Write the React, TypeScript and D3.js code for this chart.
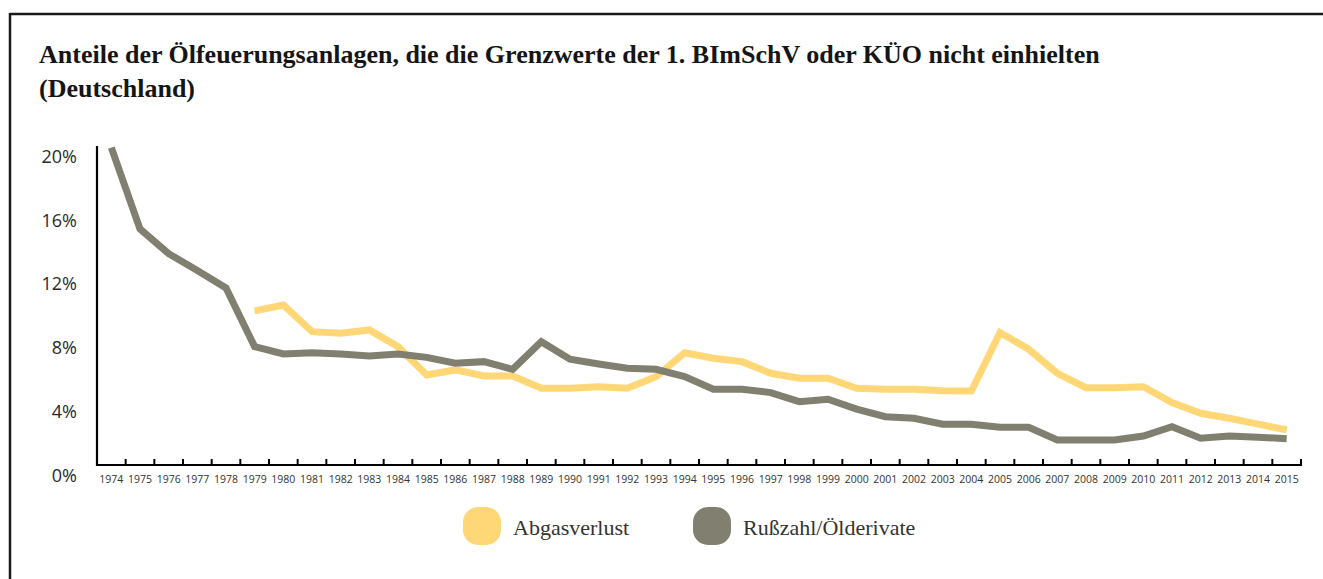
import React from "react";
import * as d3 from "d3";

const years: number[] = d3.range(1974, 2016);

// Rußzahl/Ölderivate (gray), 1974–2015, in %
const russzahl: number[] = [
  19.9, 14.8, 13.25, 12.2, 11.1, 7.42, 6.96, 7.04, 6.96, 6.84, 6.96, 6.75, 6.38, 6.48,
  6.0, 7.73, 6.63, 6.33, 6.07, 6.0, 5.54, 4.75, 4.75, 4.54, 3.97, 4.12, 3.5, 3.03,
  2.93, 2.56, 2.56, 2.37, 2.37, 1.57, 1.57, 1.57, 1.82, 2.4, 1.68, 1.82, 1.74, 1.65,
];

// Abgasverlust (yellow), 1979–2015, in %
const abgasYears: number[] = d3.range(1979, 2016);
const abgasverlust: number[] = [
  9.66, 10.03, 8.36, 8.26, 8.47, 7.42, 5.65, 5.96, 5.58, 5.58, 4.81, 4.81, 4.91, 4.81,
  5.54, 7.04, 6.69, 6.48, 5.75, 5.44, 5.44, 4.81, 4.75, 4.75, 4.66, 4.64, 8.3, 7.26,
  5.75, 4.85, 4.85, 4.91, 3.91, 3.24, 2.93, 2.56, 2.2,
];

const yTicks: number[] = [0, 4, 8, 12, 16, 20];

const titleLines: string[] = [
  "Anteile der Ölfeuerungsanlagen, die die Grenzwerte der 1. BImSchV oder KÜO nicht einhielten",
  "(Deutschland)",
];

const legendItems = [
  { label: "Abgasverlust", color: "#FFD776" },
  { label: "Rußzahl/Ölderivate", color: "#817F6F" },
];

export default function App() {
  const W = 1323;
  const H = 579;
  const x0 = 97;
  const x1 = 1301;
  const yTop = 146;
  const yBot = 465;

  const x = d3.scaleBand<number>().domain(years).range([x0, x1]).padding(0);
  const cx = (yr: number) => (x(yr) as number) + x.bandwidth() / 2;
  const y = d3.scaleLinear().domain([0, 20]).range([yBot, yTop]);

  const line = d3
    .line<[number, number]>()
    .x((d) => cx(d[0]))
    .y((d) => y(d[1]));

  const grayPath = line(years.map((yr, i) => [yr, russzahl[i]] as [number, number])) || "";
  const yellowPath = line(abgasYears.map((yr, i) => [yr, abgasverlust[i]] as [number, number])) || "";

  const serif = "'Liberation Serif', 'DejaVu Serif', serif";
  const sans = "'Open Sans', 'Noto Sans', sans-serif";

  return (
    <svg
      width={W}
      height={H}
      style={{ position: "absolute", left: 0, top: 0, background: "#fff" }}
    >
      {/* frame */}
      <line x1={10} y1={14} x2={W} y2={14} stroke="#1a1a1a" strokeWidth={2.5} />
      <line x1={10} y1={13} x2={10} y2={H} stroke="#1a1a1a" strokeWidth={2.5} />

      {/* title */}
      {titleLines.map((t, i) => (
        <text
          key={i}
          x={39}
          y={63 + i * 34}
          fontFamily={serif}
          fontWeight="bold"
          fontSize={26}
          fill="#151515"
        >
          {t}
        </text>
      ))}

      {/* y axis labels */}
      {yTicks.map((t) => (
        <text
          key={t}
          x={77}
          y={y(t) + 12}
          textAnchor="end"
          dominantBaseline="middle"
          fontFamily={sans}
          fontSize={18}
          fill="#2a2a2a"
        >
          {t}%
        </text>
      ))}

      {/* lines */}
      <path d={yellowPath} fill="none" stroke="#FFD776" strokeWidth={7} strokeLinejoin="miter" />
      <path d={grayPath} fill="none" stroke="#817F6F" strokeWidth={7} strokeLinejoin="miter" />

      {/* axes */}
      <line x1={x0} y1={yTop} x2={x0} y2={yBot + 1} stroke="#000" strokeWidth={2.2} />
      <line x1={x0 - 1} y1={yBot} x2={x1 + 1} y2={yBot} stroke="#000" strokeWidth={2.2} />
      {years.map((yr) => {
        const xt = (x(yr) as number) + x.bandwidth();
        return <line key={yr} x1={xt} y1={yBot - 6} x2={xt} y2={yBot} stroke="#000" strokeWidth={2} />;
      })}
      {years.map((yr) => (
        <text
          key={yr}
          x={cx(yr)}
          y={483}
          textAnchor="middle"
          fontFamily={sans}
          fontSize={10.5}
          fill="#333"
        >
          {yr}
        </text>
      ))}

      {/* legend */}
      {legendItems.map((it, i) => {
        const lx = i === 0 ? 463 : 693;
        return (
          <g key={it.label}>
            <rect x={lx} y={507} width={38} height={38} rx={15} ry={15} fill={it.color} />
            <text x={lx + 50} y={535} fontFamily={serif} fontSize={22} fill="#333">
              {it.label}
            </text>
          </g>
        );
      })}
    </svg>
  );
}
